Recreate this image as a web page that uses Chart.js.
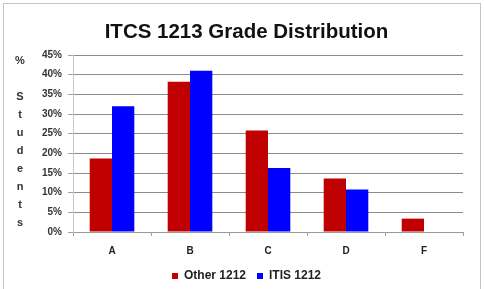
<!DOCTYPE html>
<html>
<head>
<meta charset="utf-8">
<script src="https://cdn.jsdelivr.net/npm/chart.js@4/dist/chart.umd.min.js"></script>
<style>
  html, body { margin: 0; padding: 0; background: #fff; }
  #wrap { position: absolute; left: 0; top: 0; width: 484px; height: 289px; }
</style>
</head>
<body>
<div id="wrap"><canvas id="c" width="484" height="289"></canvas></div>
<script>
const chartTitle = 'ITCS 1213 Grade Distribution';
const categories = ['A', 'B', 'C', 'D', 'F'];
const seriesNames = ['Other 1212', 'ITIS 1212'];
const otherValues = [18.7, 38.2, 25.8, 13.6, 3.4];
const itisValues = [32.0, 41.0, 16.3, 10.8, 0];
const yTitleLetters = ['%', '', 'S', 't', 'u', 'd', 'e', 'n', 't', 's'];
const yMax = 45;
const yStep = 5;

const FONT = "'Liberation Sans', Arial, sans-serif";
const PAD_L = 30, PAD_R = 21, PAD_B = -3;

const frame = {
  id: 'frame',
  beforeDraw(chart) {
    const ctx = chart.ctx;
    ctx.save();
    ctx.fillStyle = '#fff';
    ctx.fillRect(0, 0, chart.width, chart.height);
    ctx.strokeStyle = '#c4c4c4';
    ctx.lineWidth = 1;
    ctx.strokeRect(3.5, 3.5, 477, 300);
    ctx.restore();
  },
  afterDraw(chart) {
    const ctx = chart.ctx;
    ctx.save();
    ctx.font = 'bold 11px ' + FONT;
    ctx.fillStyle = '#333';
    ctx.textAlign = 'center';
    ctx.textBaseline = 'middle';
    // y-axis title written as a vertical stack of letters
    yTitleLetters.forEach((ch, i) => {
      const yy = i === 0 ? 61 : 97 + (i - 2) * 18;
      if (ch) ctx.fillText(ch, 20, yy);
    });
    ctx.restore();
  }
};

new Chart(document.getElementById('c'), {
  type: 'bar',
  data: {
    labels: categories,
    datasets: [
      { label: seriesNames[0], data: otherValues, backgroundColor: '#C00000', barPercentage: 1, categoryPercentage: 0.572 },
      { label: seriesNames[1], data: itisValues, backgroundColor: '#0000FF', barPercentage: 1, categoryPercentage: 0.572 }
    ]
  },
  options: {
    responsive: false,
    animation: false,
    layout: { padding: { left: PAD_L, right: PAD_R, top: 0, bottom: PAD_B } },
    plugins: {
      title: {
        display: true,
        text: chartTitle,
        color: '#111',
        font: { family: FONT, size: 20.5, weight: 'bold', lineHeight: 1.2 },
        padding: { top: 20, bottom: 10.4 }
      },
      legend: {
        position: 'bottom',
        labels: {
          boxWidth: 6,
          boxHeight: 6,
          padding: 11,
          color: '#222',
          font: { family: FONT, size: 12, weight: 'bold' }
        }
      },
      tooltip: { enabled: false }
    },
    scales: {
      x: {
        grid: { display: true, offset: true, drawOnChartArea: false, drawTicks: true, tickLength: 4, color: '#a0a0a0' },
        border: { display: true, color: '#9a9a9a' },
        ticks: { color: '#222', padding: 9, font: { family: FONT, size: 10, weight: 'bold' } },
        afterFit(scale) {
          const lg = scale.chart.legend;
          scale.height = 289 - PAD_B - 232 - (lg ? lg.height : 0);
        }
      },
      y: {
        min: 0,
        max: yMax,
        ticks: { stepSize: yStep, color: '#333', padding: 6, font: { family: FONT, size: 10, weight: 'bold' }, callback: v => v + '%' },
        grid: { color: '#8c8c8c', tickLength: 5, tickColor: '#a0a0a0' },
        border: { display: true, color: '#c8c8c8' },
        afterFit(scale) { scale.width = 73 - PAD_L; }
      }
    }
  },
  plugins: [frame]
});
</script>
</body>
</html>
